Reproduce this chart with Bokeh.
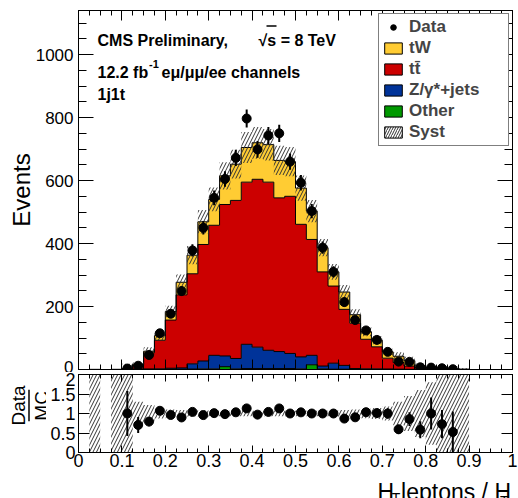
import numpy as np
from bokeh.plotting import figure
from bokeh.layouts import column, row
from bokeh.models import (Range1d, LinearAxis, SingleIntervalTicker, NumeralTickFormatter,
                          Legend, LegendItem, Label, Arrow, ColumnDataSource)
from bokeh.embed import file_html
from bokeh.resources import INLINE

FONT = "Liberation Sans"

# Binning of H_T(leptons)/H_T: 0.025 wide bins, first low edge at 0.025
BIN_WIDTH = 0.025
FIRST_EDGE = 0.025

# Expected yields per bin (events), stacked bottom-up: Other, Z/gamma*+jets, ttbar, tW
other = [0.1, 0, 0.1, 0.3, 0.5, 0.5, 0.5, 1, 1, 1.5, 2, 2, 9, 2, 3, 3, 3, 3, 3, 2,
         15, 2, 1, 1, 0.5, 0.5, 0.3, 0.3, 0.2, 0.1, 0.1, 0.1, 0, 0, 0]
dy = [0, 0, 0, 0.7, 1, 1, 1.5, 3, 4, 16.5, 25, 43, 34, 33, 77, 68, 58, 54, 48, 38,
      30, 9, 19, 12, 2.5, 1.5, 1.7, 1.2, 0.8, 0.4, 0.3, 0.2, 0.1, 0, 0]
ttbar = [0, 0, 0, 1, 11.5, 51.5, 91, 153, 232, 286, 370, 413, 481, 502, 515, 533, 534, 488, 499, 421,
         368, 299, 245, 178, 144, 94, 70, 34.5, 21, 10.5, 5.6, 3.7, 2.9, 1.5, 0.7]
tw = [0, 0, 0.1, 1, 4, 5, 14.5, 27, 40, 59, 72, 82, 91, 115, 110, 116, 119, 119, 110, 115,
      90, 77, 45, 55, 27, 24, 21, 20, 20, 17, 6, 2, 2.5, 0.4, 0.1]

# Observed events (None = empty bin)
data = [None, None, None, 3, 12, 46, 115, 177, 249, 378, 450, 545, 605, 672, 797, 699, 743, 750, 660, 593,
        503, 387, 310, 214, 157, 124, 94, 56, 25, 24, 7, 6, 4, 1, None]

# Relative systematic uncertainty on the total expectation
syst_rel = [5, 0, 5, 5, 0.3, 0.22, 0.13, 0.1, 0.09, 0.08, 0.08, 0.07, 0.07, 0.07, 0.07, 0.07, 0.07, 0.07, 0.07, 0.07,
            0.07, 0.07, 0.08, 0.09, 0.1, 0.12, 0.14, 0.18, 0.3, 0.45, 0.6, 0.8, 1.0, 5, 5]

components = [("Other", other, "#009900"),
              ("Z/\u03b3*+jets", dy, "#003399"),
              ("tt\u0304", ttbar, "#cc0000"),
              ("tW", tw, "#ffcc33")]

# ---------------------------------------------------------------- geometry
n = len(other)
lo = FIRST_EDGE + BIN_WIDTH * np.arange(n)
hi = lo + BIN_WIDTH
centers = lo + BIN_WIDTH / 2

def stepped(vals):
    xs = np.column_stack([lo, hi]).ravel()
    ys = np.repeat(np.asarray(vals, dtype=float), 2)
    return xs, ys

W = 518
MAIN_H, RATIO_H, TITLE_H = 372, 102, 24
MAIN_YMAX = 1140
MAIN_L, MAIN_R, MAIN_T, MAIN_B = 78, 512, 10, 369
STRIP_W = 46
RAT_T, RAT_B = 374, 452

def main_pos(px, py):
    return (px - MAIN_L) / (MAIN_R - MAIN_L), (MAIN_B - py) / (MAIN_B - MAIN_T) * MAIN_YMAX

def style_axis(ax, major_in, minor_in, size=None, standoff=5):
    ax.major_tick_in = major_in
    ax.major_tick_out = 0
    ax.minor_tick_in = minor_in
    ax.minor_tick_out = 0
    ax.axis_line_color = "black"
    ax.major_tick_line_color = "black"
    ax.minor_tick_line_color = "black"
    ax.major_label_text_font = FONT
    ax.major_label_text_color = "black"
    if size is None:
        ax.major_label_text_font_size = "0px"
        ax.major_label_standoff = 0
    else:
        ax.major_label_text_font_size = size
        ax.major_label_standoff = standoff

def bare_figure(width, height, x_range, y_range):
    f = figure(width=width, height=height, x_range=x_range, y_range=y_range,
               x_axis_location=None, y_axis_location=None,
               output_backend="svg", toolbar_location=None,
               min_border_left=0, min_border_right=0, min_border_top=0, min_border_bottom=0)
    f.grid.visible = False
    f.outline_line_color = None
    f.background_fill_color = "white"
    f.border_fill_color = "white"
    return f

# ---------------------------------------------------------------- main panel
p1 = figure(width=W, height=MAIN_H, x_range=Range1d(0, 1), y_range=Range1d(0, MAIN_YMAX),
            output_backend="svg", toolbar_location=None,
            min_border_left=MAIN_L, min_border_right=W - MAIN_R,
            min_border_top=MAIN_T, min_border_bottom=MAIN_H - MAIN_B)
p1.grid.visible = False
p1.outline_line_color = "black"
p1.background_fill_color = "white"
p1.border_fill_color = "white"

p1.xaxis.ticker = SingleIntervalTicker(interval=0.1, num_minor_ticks=4)
p1.yaxis.ticker = SingleIntervalTicker(interval=200, num_minor_ticks=4)
style_axis(p1.xaxis[0], 10, 5)
style_axis(p1.yaxis[0], 15, 8, "17px", 5)
p1.yaxis.axis_label = "Events"
p1.yaxis.axis_label_text_font = FONT
p1.yaxis.axis_label_text_font_size = "24px"
p1.yaxis.axis_label_text_font_style = "normal"
p1.yaxis.axis_label_text_color = "black"
p1.yaxis.axis_label_standoff = -2
top_ax = LinearAxis(ticker=SingleIntervalTicker(interval=0.1, num_minor_ticks=4))
style_axis(top_ax, 10, 5)
p1.add_layout(top_ax, "above")
right_ax = LinearAxis(ticker=SingleIntervalTicker(interval=200, num_minor_ticks=4))
style_axis(right_ax, 15, 8)
p1.add_layout(right_ax, "right")

xs, _ = stepped(other)
lower = np.zeros(n)
levels = []
for name, vals, color in components:
    upper = lower + np.asarray(vals, dtype=float)
    p1.varea(x=xs, y1=np.repeat(lower, 2), y2=np.repeat(upper, 2), fill_color=color, fill_alpha=1)
    levels.append(upper)
    lower = upper
for upper in levels:
    _, ys = stepped(upper)
    p1.line(np.r_[lo[0], xs, hi[-1]], np.r_[0, ys, 0], line_color="black", line_width=1)

mc = levels[-1]
rel = np.asarray(syst_rel, dtype=float)
band_up = mc * (1 + rel)
band_dn = np.clip(mc * (1 - rel), 0, None)
HATCH = dict(hatch_pattern="/", hatch_color="#333333", hatch_scale=7, hatch_weight=1)
p1.varea(x=xs, y1=np.repeat(band_dn, 2), y2=np.repeat(band_up, 2), fill_alpha=0, **HATCH)

dvals = np.array([np.nan if v is None else v for v in data], dtype=float)
has = ~np.isnan(dvals)
dx = centers[has]
dy_obs = dvals[has]
derr = np.sqrt(dy_obs)
p1.segment(dx, dy_obs - derr, dx, dy_obs + derr, line_color="black", line_width=2)
r_data = p1.scatter(dx, dy_obs, size=9, color="black")

# legend swatches (single undrawn row so the legend has something to style)
def swatch_source():
    return ColumnDataSource(dict(left=[np.nan], right=[np.nan], top=[np.nan], bottom=[np.nan]))

legend_items = [LegendItem(label="Data", renderers=[r_data])]
for name, vals, color in reversed(components):
    r = p1.quad(left="left", right="right", top="top", bottom="bottom", source=swatch_source(),
                fill_color=color, line_color="black", line_width=1)
    legend_items.append(LegendItem(label=name, renderers=[r]))
r_syst = p1.quad(left="left", right="right", top="top", bottom="bottom", source=swatch_source(),
                 fill_color="white", line_color="black", line_width=1,
                 hatch_pattern="/", hatch_color="#333333", hatch_scale=5, hatch_weight=1)
legend_items.append(LegendItem(label="Syst", renderers=[r_syst]))

legend = Legend(items=legend_items, location="top_right", margin=3, padding=3,
                spacing=1, glyph_width=22, glyph_height=14, label_height=14, label_width=96,
                label_standoff=5, border_line_color="black", border_line_width=1,
                background_fill_color="white", background_fill_alpha=1,
                label_text_font=FONT, label_text_font_style="bold", label_text_font_size="17px")
p1.add_layout(legend)

def main_label(px, py, text, size="16px", style="bold", **kw):
    x, y = main_pos(px, py)
    p1.add_layout(Label(x=x, y=y, text=text, text_font=FONT, text_font_size=size,
                        text_font_style=style, text_color="black",
                        text_baseline="alphabetic", text_align="left", **kw))

main_label(97, 39.5, "CMS Preliminary,")
main_label(258, 39.5, "\u221as = 8 TeV")
ox0, oy0 = main_pos(266, 25.5)
ox1, _ = main_pos(276, 25.5)
p1.add_layout(Arrow(end=None, x_start=ox0, y_start=oy0, x_end=ox1, y_end=oy0,
                    line_color="black", line_width=1.5))
main_label(97, 71.5, "12.2 fb")
main_label(148.5, 63, "-1", size="11px")
main_label(161, 71.5, "e\u03bc/\u03bc\u03bc/ee channels")
main_label(97, 94, "1j1t")

# ---------------------------------------------------------------- ratio panel
p2 = figure(width=W - STRIP_W, height=RATIO_H, x_range=Range1d(0, 1), y_range=Range1d(0, 2),
            output_backend="svg", toolbar_location=None,
            min_border_left=MAIN_L - STRIP_W, min_border_right=W - MAIN_R,
            min_border_top=RAT_T - MAIN_H, min_border_bottom=MAIN_H + RATIO_H - RAT_B)
p2.grid.visible = False
p2.outline_line_color = "black"
p2.background_fill_color = "white"
p2.border_fill_color = "white"

fmt = NumeralTickFormatter(format="0.[0]")
p2.xaxis.ticker = SingleIntervalTicker(interval=0.1, num_minor_ticks=4)
p2.xaxis.formatter = fmt
p2.yaxis.ticker = SingleIntervalTicker(interval=0.5, num_minor_ticks=5)
p2.yaxis.formatter = fmt
style_axis(p2.xaxis[0], 7, 4, "18px", 1)
style_axis(p2.yaxis[0], 11, 0, "18px", 3)
top2 = LinearAxis(ticker=SingleIntervalTicker(interval=0.1, num_minor_ticks=4))
style_axis(top2, 7, 4)
p2.add_layout(top2, "above")
right2 = LinearAxis(ticker=SingleIntervalTicker(interval=0.5, num_minor_ticks=5))
style_axis(right2, 11, 0)
p2.add_layout(right2, "right")

p2.varea(x=xs, y1=np.repeat(1 - rel, 2), y2=np.repeat(1 + rel, 2), fill_alpha=0, **HATCH)

mc_has = mc[has]
ratio = dy_obs / mc_has
ratio_err = np.sqrt(dy_obs) / mc_has
p2.segment(dx, ratio - ratio_err, dx, ratio + ratio_err, line_color="black", line_width=2)
p2.scatter(dx, ratio, size=9, color="black")

# ---------------------------------------------------------------- Data/MC axis title (page-pixel coordinates)
strip = bare_figure(STRIP_W, RATIO_H, Range1d(0, STRIP_W), Range1d(MAIN_H + RATIO_H, MAIN_H))

def strip_label(px, py, text):
    strip.add_layout(Label(x=px, y=py, text=text, text_font=FONT, text_font_size="19px",
                           text_color="black", angle=np.pi / 2,
                           text_align="center", text_baseline="middle"))

strip_label(17.5, 412.5, "Data")
strip_label(40.5, 413, "MC")
strip.segment(x0=[28.5], y0=[392], x1=[28.5], y1=[433], line_color="black", line_width=1.5)

# ---------------------------------------------------------------- x axis title (page-pixel coordinates)
title = bare_figure(W, TITLE_H, Range1d(0, W), Range1d(MAIN_H + RATIO_H + TITLE_H, MAIN_H + RATIO_H))

def title_label(px, py, text, size):
    title.add_layout(Label(x=px, y=py, text=text, text_font=FONT, text_font_size=size,
                           text_color="black", text_align="left", text_baseline="alphabetic"))

title_label(357, 491, "H", "23px")
title_label(374, 497, "T", "14px")
title_label(385, 491, "leptons / H", "23px")
title_label(503, 500, "T", "14px")

layout = column(p1, row(strip, p2), title)
open("out.html", "w").write(file_html(layout, INLINE))
